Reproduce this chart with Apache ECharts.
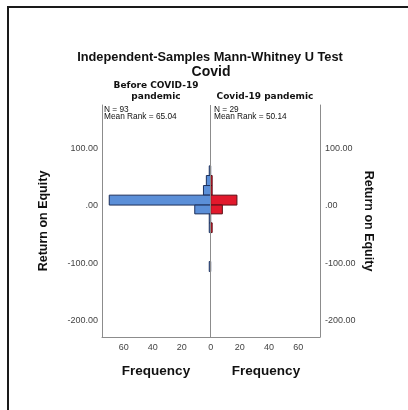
<!DOCTYPE html>
<html><head><meta charset="utf-8">
<script src="https://cdn.jsdelivr.net/npm/echarts@6/dist/echarts.min.js"></script>
<style>html,body{margin:0;padding:0;background:#fff}#c{width:408px;height:410px}</style>
</head><body><div id="c"></div>
<script>
// Bins: [lower edge, upper edge, frequency]
const beforeBins = [
  [52.5, 69.3, 1], [35.1, 52.5, 3], [18.4, 35.1, 5], [1.2, 18.4, 70],
  [-14.1, 1.2, 11], [-29.7, -14.1, 1], [-46.6, -29.7, 1], [-114.3, -96.9, 1]
];
const covidBins = [
  [35.1, 52.5, 1], [18.4, 35.1, 1], [1.2, 18.4, 18], [-14.1, 1.2, 8], [-46.6, -29.7, 1]
];
const yTicks = [100, 0, -100, -200];
const leftFreqTicks = [0, 20, 40, 60];
const rightFreqTicks = [20, 40, 60];
const groupNames = ['Before COVID-19\npandemic', 'Covid-19 pandemic'];
const groupStats = ['N = 93\nMean Rank = 65.04', 'N = 29\nMean Rank = 50.14'];

const chart = echarts.init(document.getElementById('c'));
const AX = '#8c8c8c';
const fmtY = v => { const s = Math.abs(v).toFixed(2).replace(/^0/, ''); return (v < 0 ? '-' : '') + s; };

function makeRender(fill, stroke) {
  return function (params, api) {
    const lo = api.value(0), hi = api.value(1), n = api.value(2);
    const p1 = api.coord([0, hi]);
    const p2 = api.coord([n, lo]);
    const x = Math.min(p1[0], p2[0]), w = Math.abs(p2[0] - p1[0]);
    return { type: 'rect', shape: { x: x, y: p1[1], width: w, height: p2[1] - p1[1] },
      style: { fill: fill, stroke: stroke, lineWidth: 1 } };
  };
}
const yMin = -228, yMax = 175;
const txt = (x, y, text, font, extra) => ({ type: 'text', x: x, y: y,
  style: Object.assign({ text: text, font: font, fill: '#111', textAlign: 'center', textVerticalAlign: 'middle' }, extra || {}) });
const axLine = { show: true, onZero: false, lineStyle: { color: AX, width: 1 } };

chart.setOption({
  animation: false,
  grid: [
    { left: 102, top: 105, width: 108.7, height: 232 },
    { left: 210.7, top: 105, width: 109.3, height: 232 }
  ],
  xAxis: [
    { gridIndex: 0, type: 'value', min: 0, max: 75, inverse: true,
      axisLine: axLine, axisTick: { show: false }, splitLine: { show: false },
      axisLabel: { customValues: leftFreqTicks, color: '#444', fontSize: 9, fontFamily: 'Liberation Sans', margin: 6 } },
    { gridIndex: 1, type: 'value', min: 0, max: 75,
      axisLine: axLine, axisTick: { show: false }, splitLine: { show: false },
      axisLabel: { customValues: rightFreqTicks, color: '#444', fontSize: 9, fontFamily: 'Liberation Sans', margin: 6 } }
  ],
  yAxis: [
    { gridIndex: 0, type: 'value', min: yMin, max: yMax, position: 'left',
      axisLine: axLine, axisTick: { show: false }, splitLine: { show: false },
      axisLabel: { customValues: yTicks, formatter: fmtY, color: '#444', fontSize: 9, fontFamily: 'Liberation Sans', margin: 4 } },
    { gridIndex: 1, type: 'value', min: yMin, max: yMax, position: 'right',
      axisLine: axLine, axisTick: { show: false }, splitLine: { show: false },
      axisLabel: { customValues: yTicks, formatter: fmtY, color: '#444', fontSize: 9, fontFamily: 'Liberation Sans', margin: 5 } }
  ],
  series: [
    { type: 'custom', xAxisIndex: 0, yAxisIndex: 0, data: beforeBins,
      renderItem: makeRender('#5b8fd8', '#1c2f5a'), encode: { x: 2, y: [0, 1] } },
    { type: 'custom', xAxisIndex: 1, yAxisIndex: 1, data: covidBins,
      renderItem: makeRender('#e2192c', '#5a0f16'), encode: { x: 2, y: [0, 1] },
      markLine: { silent: true, symbol: 'none', label: { show: false }, z: 10,
        lineStyle: { color: AX, type: 'solid', width: 1 }, data: [{ xAxis: 0 }] } }
  ],
  graphic: [
    { type: 'rect', shape: { x: 8, y: 7, width: 420, height: 420 }, style: { fill: 'none', stroke: '#1a1a1a', lineWidth: 2 } },
    txt(210, 57, 'Independent-Samples Mann-Whitney U Test', 'bold 12.8px "Liberation Sans"'),
    txt(211, 72, 'Covid', 'bold 14px "Liberation Sans"'),
    txt(156, 91, groupNames[0], 'bold 9px "DejaVu Sans"', { lineHeight: 11 }),
    txt(265, 97, groupNames[1], 'bold 9px "DejaVu Sans"'),
    txt(104, 113, groupStats[0], '8.3px "Liberation Sans"', { textAlign: 'left', lineHeight: 7.5 }),
    txt(214, 113, groupStats[1], '8.3px "Liberation Sans"', { textAlign: 'left', lineHeight: 7.5 }),
    txt(156, 371, 'Frequency', 'bold 13.5px "Liberation Sans"'),
    txt(266, 371, 'Frequency', 'bold 13.5px "Liberation Sans"'),
    { type: 'text', x: 44, y: 221, rotation: Math.PI / 2,
      style: { text: 'Return on Equity', font: 'bold 12.5px "Liberation Sans"', fill: '#111', textAlign: 'center', textVerticalAlign: 'middle' } },
    { type: 'text', x: 368, y: 221, rotation: -Math.PI / 2,
      style: { text: 'Return on Equity', font: 'bold 12.5px "Liberation Sans"', fill: '#111', textAlign: 'center', textVerticalAlign: 'middle' } }
  ]
});
</script></body></html>
